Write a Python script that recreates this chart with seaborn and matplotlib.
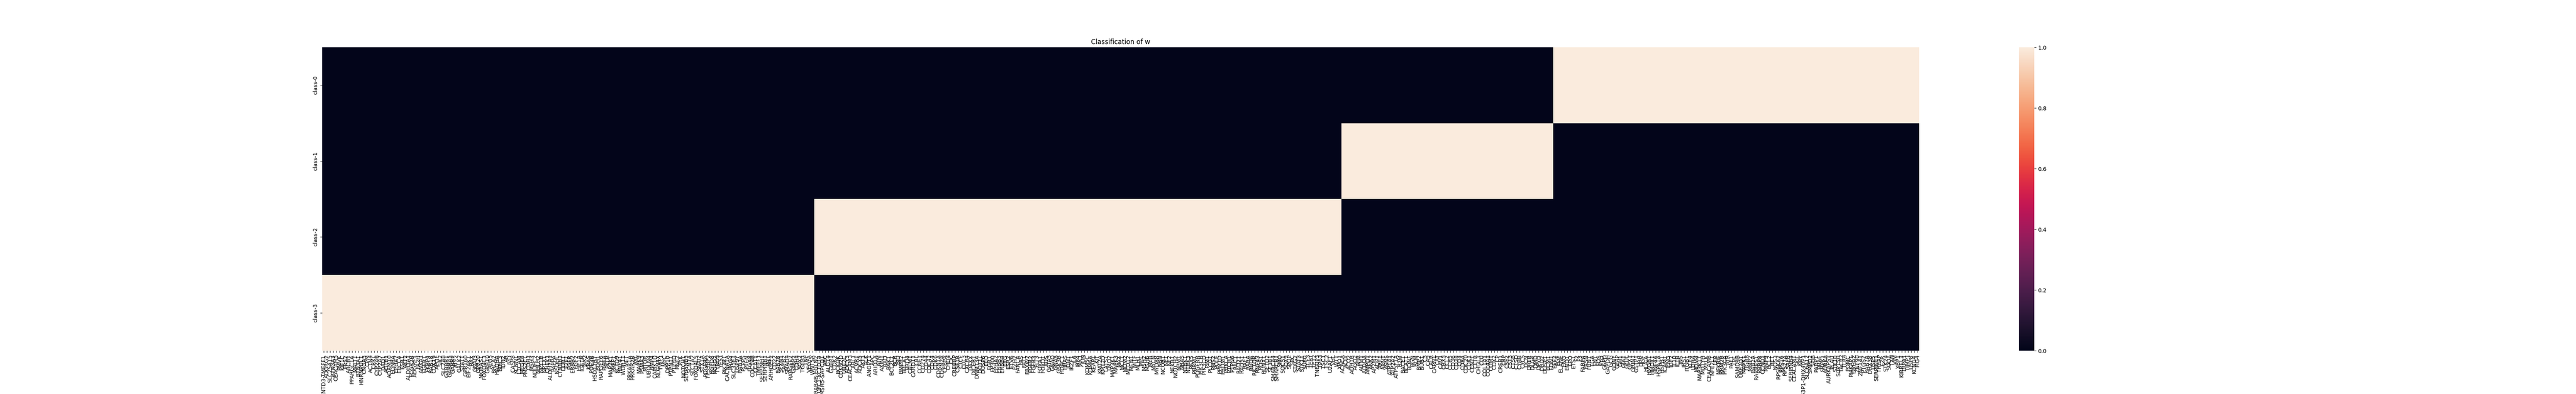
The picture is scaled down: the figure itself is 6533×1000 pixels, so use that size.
import matplotlib

matplotlib.use("Agg")
import matplotlib.pyplot as plt
import pandas as pd
import seaborn as sns


class_names = ["class-0", "class-1", "class-2", "class-3"]

class3_genes = """
ENTD3-TMEFF1 ADGRG2 SLC25A15 BTN3A3 CEACAM5 PMVK KIF1C FRS2 ABCB1 PPARGC1A
MALT1 BTN3A1 HNRNPUL1 CNGA3 CPM ACTN4 CRKL CYP2A6 CYP2A7 DAD1
AGTR1 ADAM10 EDNRA EPHA7 ERCC4 ESR1 AKT2 ALDH3A1 FCGR2B ADGRF1
FA2H ANXA1 FGFR1 FKBP4 RAB18 CDK19 APOE SIK2 SLC7A8 GABBR1
GABRA5 GABRP ATF2 GALK2 STAT1 GPR160 EIF2AK1 BAX GNAI3 GPR20
NKIRAS1 FOXD4L3 GRB10 ALG5 BRCA2 HADHA BIRC3 IDH2 AR IVD
CASP8 KCNN1 L1CAM MFGE8 PMS2CL CDH1 MSH3 NDUFC2 NHLH2 NPY1R
NPTX1 CHEK1 ALDH7A1 PAPPA NSDHL CTNNB1 DDR1 E2F1 EGFR ERBB2
FGF2 HIF1A IGF1R JAK2 KRAS
PDE3B HSD17B7 BDH1 RAPGEF6 PI4KA PKLR MAP2K1 PPEF1 KCTD9 RNF41
WDR11 MET PRKAR1A PRKAR2B AXL MAPK9 PSMA3 MTOR UBQLN4 BMP4
CAMK1D NLGN4X TWF1 MYC DPP10 PTPN11 PTPRD RNF7 RYK NOTCH1
SERPINB3 SCN7A SLC1A2 FOXD4L5 SNAI2 STX1A PDGFRA TP53BP2 RGPD8 RGPD2
TYRO3 YES1 PIK3R1 CACNA1A PRG4 SLC35E1 USP9Y RAB3A PLPP5 PTEN
ITGA8 CDC14B CCAT1 TMEFF1 SERPINH1 SERPINB1 RB1 ARHGEF2 CD22 RAB28
SFXN1 SAFB2 SMAD4 RAPGEF2 G3BP2 CDH4 SOX2 TGFB1 TNF VEGFA
WNT5A
""".split()

class2_genes = """
RAB4B-EGLN2 UFC1-KCTD14 MSH5-SAPCD1 ARC ALG14 G3BP1 CDK2 BCKDK CDKN2D UBE2C
ADCY3 CEACAM3
ABL1 ACVR1 ADCY5 AKT1 ALK ANGPT1 APC ARID1A ATM AXIN1
BAD BAK1 BCL2L1 BCR BID BMPR2 BRCA1 BRD4 CALM1 CARD11
CBL CCNE1 CD274 CD44 CDC42 CDK4 CDK6 CDKN1A CDKN2A CEBPA
CHD4 CIC CREBBP CSF1R CTCF CUL3 CXCR4 DAXX DICER1 DNMT3A
DOT1L DUSP6 EED EGR1 EP300 EPHA2 ERBB3 ERBB4 ERG ESR2
ETV6 EZH2 FANCA FAS FAT1 FBXW7 FGFR2 FGFR3 FLT3 FOXA1
FOXO1 FUS GATA3 GNAQ GNAS GSK3B HDAC1 HRAS IDH1 IKZF1
IL6 IRF4 JAK1 JUN KDM5C KDM6A KEAP1 KIT KMT2A KMT2D
LATS1 LMO2 MAP3K1 MAPK3 MAX MCL1 MDM2 MED12 MEN1 MITF
MLH1 MPL MSH2 MSH6 MYB MYCN MYD88 NBN NCOR1 NF1
NF2 NFKB1 NOTCH2 NPM1 NRAS NTRK1 NTRK3 PAX5 PBRM1 PDGFRB
PIK3CB PIK3CD PIM1 PLCG1 PMS2 POLE PPM1D PRDM1 PRKCA PTCH1
PTPN6 RAC1 RAD21 RAD51 RAF1 RARA RHOA RICTOR RNF43 ROS1
RUNX1 SETD2 SF3B1 SMARCA4 SMARCB1 SMO SOCS1 SOX9 SPOP SRC
STAG2 STAT3 STK11 SUFU TCF3 TERT TET2 TNFAIP3 TP63 TSC1
TSC2 U2AF1 VHL WT1 XPO1
""".split()

class1_genes = """
ACACA ACLY ACO2 ADH1B AGO2 AHR AIFM1 ALDOA AMPD1 ANK2
AP2M1 AQP1 ARF1 ARNT ASNS ATP1A1 ATP2A2 ATP5F1A B2M BACE1
BCAT1 BDNF BGN BLM BMP2 BUB1 C3 CA9 CALR CAPN1
CAT CAV1 CBX5 CCL2 CCR5 CD36 CD38 CD4 CD8A CDC20
CDK1 CENPF CFTR CHI3L1 CLU COL1A1 COL4A1 COMT COX2 CP
CREB1 CRP CSF2 CST3 CTSB CTSD CYBB CYCS DCN DHFR
DLG4 DMD DPYD DRD2 DUSP1 ECM1 EDN1
""".split()

class0_genes = """
EEF2 EGF ELANE ENG ENO1 EPO ETS1 F2 F3 FABP4
FASN FBN1 FGA FN1 FOS FTO G6PD GAPDH GCG GDNF
GFAP GH1 GJA1 GLUL GPX1 GRIN1 GSTP1 HBB HGF HLA-A
HMGB1 HMOX1 HNF4A HSPA1A HSPB1 ICAM1 IFNG IGF2 IL10 IL1B
INS IRS1 ITGB1 KLF4 LDHA
MDM4 MAP3K11 MUTYH MYLK CEACAM6 NFE2L1 LEP NFKBIE RRM2B PIK3CA
ATR PAF1 LPL SAMD4B UBE2Q1 MAPK1 TIGAR MMP2 RAB2A RARRES1
RBBP8 CCND1 MMP9 BCL2 RET NOS3 RPS6KA2 RPS16 RPS27A SAFB
SERPINB4 CEACAM1 SKIL NPY TP53P1-DHX40P1 SLC6A12 SMPD2 SPIB PARP1 BRAF
SRPK1 AURKA AURKAPS1 PLAU STK10 SUPT5H TACR2 TLR4 POMC PI4KAP1
YWHAZ ZNF90 ZNF141 PTGS2 RAB7A DHX38 USP5 SERPINE1 TRRAP EZR
STK24 SOD1 TXN VIM XBP1 KIRREL3 TRPA1 TIMP1 USP8 KCNG4
FIG4
""".split()

genes = class3_genes + class2_genes + class1_genes + class0_genes
gene_class = (
    ["class-3"] * len(class3_genes)
    + ["class-2"] * len(class2_genes)
    + ["class-1"] * len(class1_genes)
    + ["class-0"] * len(class0_genes)
)

# one-hot membership: rows = classes, columns = genes (in plotting order)
membership = pd.get_dummies(pd.Series(gene_class, index=genes)).T
membership = membership.reindex(class_names).astype(float)

fig = plt.figure(figsize=(65.33, 10), dpi=100)
ax = sns.heatmap(membership, xticklabels=True, yticklabels=True)
ax.set_title("Classification of w")

fig.savefig("out.png", dpi=100)
